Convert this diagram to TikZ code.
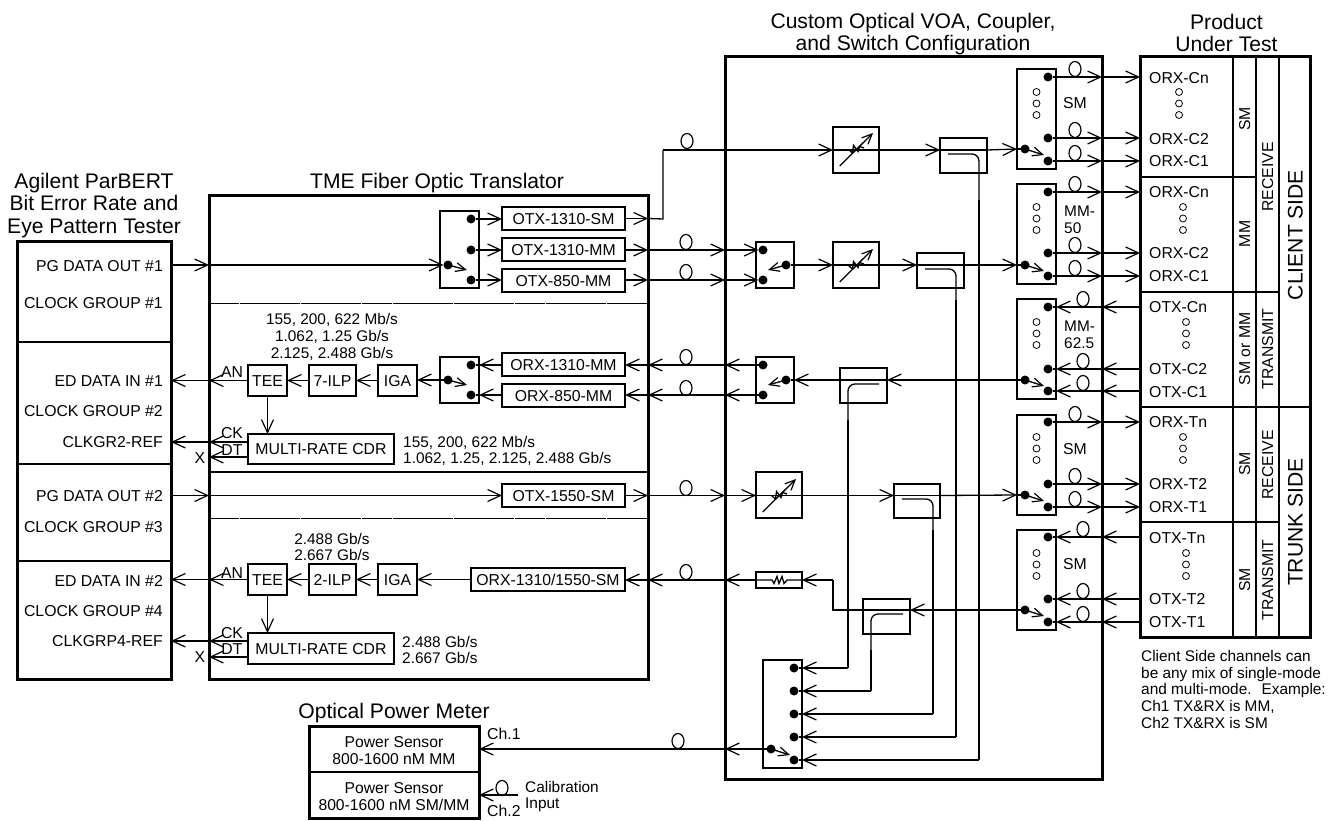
\documentclass[tikz,border=0pt]{standalone}
\usepackage{fontspec}
\setmainfont{Liberation Sans}
\usetikzlibrary{arrows.meta,shapes.geometric}
\newcommand{\lab}{\fontsize{15.8}{16.8}\selectfont}
\newcommand{\labs}{\fontsize{15.4}{16.8}\selectfont}
\newcommand{\ttl}{\fontsize{21.1}{22.4}\selectfont}
\tikzset{
  plainbox/.style={draw,line width=1.3pt,inner sep=0pt,outer sep=0pt,font=\lab,text height=11.3pt,text depth=0pt},
  heavybox/.style={draw,line width=3pt,inner sep=0pt,outer sep=0pt},
  wire/.style={line width=1.3pt},
  arr/.style={wire,-{Straight Barb[length=13pt,width=12pt,line width=1.2pt]}},
  arrs/.style={wire,-{Straight Barb[length=10pt,width=9pt,line width=1.2pt]}},
  dotn/.style={circle,fill=black,inner sep=0pt,minimum size=9pt,outer sep=0pt},
  coil/.style={draw,ellipse,line width=1.2pt,inner sep=0pt,minimum width=12pt,minimum height=15pt},
  tx/.style={font=\lab,inner sep=0pt,text height=11.3pt,text depth=0pt},
  txm/.style={font=\labs,inner sep=0pt,align=center},
  ttlm/.style={font=\ttl,inner sep=0pt,align=center},
  big/.style={font=\ttl,inner sep=0pt,text height=15pt,text depth=0pt},
  nl/.style={font=\labs,inner sep=0pt,align=left,anchor=north west},
  div/.style={line width=1.3pt},
  rule/.style={line width=.8pt,dash pattern=on 30pt off .6pt},
  ring/.style={line width=.8pt}
}
\newcommand{\Bx}[7][plainbox]{\node[#1,minimum width={#5-#3},minimum height={#6-#4}] (#2) at ({(#3+#5)/2},{(#4+#6)/2}) {#7};}
\newcommand{\rings}[2]{\draw[ring] (#1,#2) circle[radius=3.5] (#1,{#2+11.5}) circle[radius=3.5] (#1,{#2+23}) circle[radius=3.5];}
\newcommand{\mux}[7]{%
  \Bx{#1}{1017}{#2}{1056}{(#2+100)}{}
  \node[dotn] (#1c) at (1025,#3) {};
  \node[dotn] (#1a) at (1048,#4) {};
  \node[dotn] (#1b) at (1048,#5) {};
  \node[dotn] (#1d) at (1048,#6) {};
  \coordinate (#1k) at (1044,{#3+6});
  \draw[arrs] (#1c.center) -- (#1k);
  \rings{1036.5}{#7}
}
\newcommand{\outw}[3]{%
  \draw[arr] (#1) -- (cust.east |- #1);
  \draw[arr] (cust.east |- #1) -- (prod.west |- #1);
  \node[coil] (#1coil) at (1075,{#2-8}) {};
}
\newcommand{\inw}[3]{%
  \draw[arr] (prod.west |- #1) -- (cust.east |- #1);
  \draw[arr] (cust.east |- #1) -- (#3.east |- #1);
  \draw[wire] (#3.east |- #1) -- (#1);
  \node[coil] (#1coil) at (1083,{#2-8}) {};
}
\newcommand{\attn}[2]{%
  \draw[arrs] (#1+6.7,#2+17) -- (#1+40,#2-16);
  \draw[wire] (#1+15.5,#2+.5) -- (#1+19.5,#2+4) -- (#1+20.5,#2-3.5) -- (#1+25,#2+2.5) -- (#1+26.5,#2-2.5) -- (#1+31,#2-1);
}
\begin{document}
\begin{tikzpicture}[x=1pt,y=-1pt]
\useasboundingbox (0,0) rectangle (1334,821);
%% titles
\node[ttlm] (tag) at (94,205.5) {Agilent ParBERT\\Bit Error Rate and\\Eye Pattern Tester};
\node[big] (ttme) at (437,181) {TME Fiber Optic Translator};
\node[ttlm] (tcu) at (913,34) {Custom Optical VOA, Coupler,\\and Switch Configuration};
\node[ttlm] (tpr) at (1226.5,33) {Product\\Under Test};
\node[big] (tpm) at (394,711) {Optical Power Meter};
%% main boxes
\Bx[heavybox]{ag}{17}{242}{171}{679}{}
\Bx[heavybox]{tme}{209}{196}{648}{679}{}
\Bx[heavybox]{cust}{725}{57}{1102}{779}{}
\Bx[heavybox]{prod}{1140}{57}{1310}{637}{}
\Bx[heavybox]{pm}{309}{726}{479}{818}{}
%% dividers
\draw[div] (ag.west |- 0,342) -- (ag.east |- 0,342);
\draw[div] (ag.west |- 0,464) -- (ag.east |- 0,464);
\draw[div] (ag.west |- 0,561) -- (ag.east |- 0,561);
\draw[rule] (tme.west |- 0,303) -- (tme.east |- 0,303);
\draw[div] (tme.west |- 0,472) -- (tme.east |- 0,472);
\draw[rule] (tme.west |- 0,518) -- (tme.east |- 0,518);
\draw[div] (pm.west |- 0,772) -- (pm.east |- 0,772);
\draw[div] (1233,57) -- (1233,637);
\draw[div] (1256,57) -- (1256,637);
\draw[div] (1279,57) -- (1279,637);
\draw[div] (prod.west |- 0,177) -- (1256,177);
\draw[div] (prod.west |- 0,292) -- (1279,292);
\draw[div] (prod.west |- 0,407) -- (prod.east |- 0,407);
\draw[div] (prod.west |- 0,522) -- (1279,522);
%% Agilent labels
\foreach \n/\y/\t in {a1/266/PG DATA OUT \#1,a2/303/CLOCK GROUP \#1,a3/381/ED DATA IN \#1,a4/411/CLOCK GROUP \#2,a5/442/CLKGR2-REF,a6/496/PG DATA OUT \#2,a7/527/CLOCK GROUP \#3,a8/581/ED DATA IN \#2,a9/611/CLOCK GROUP \#4,a10/641/CLKGRP4-REF}
  \node[tx,anchor=east] (\n) at (163,\y) {\t};
%% TME contents
\Bx{t1}{440}{211}{479}{288}{}
\node[dotn] (t1c) at (448,265) {};
\node[dotn] (t1a) at (471,219) {};
\node[dotn] (t1b) at (471,250) {};
\node[dotn] (t1d) at (471,280) {};
\coordinate (t1k) at (467,270);
\draw[arrs] (t1c.center) -- (t1k);
\Bx{otx1}{502}{207}{625}{230}{OTX-1310-SM}
\Bx{otx2}{502}{238}{625}{261}{OTX-1310-MM}
\Bx{otx3}{502}{269}{625}{292}{OTX-850-MM}
\Bx{t2}{440}{357}{479}{403}{}
\node[dotn] (t2c) at (448,380) {};
\node[dotn] (t2a) at (471,365) {};
\node[dotn] (t2b) at (471,395) {};
\coordinate (t2k) at (467,385);
\draw[arrs] (t2c.center) -- (t2k);
\Bx{orx1}{502}{353}{625}{376}{ORX-1310-MM}
\Bx{orx2}{502}{384}{625}{407}{ORX-850-MM}
\Bx{iga1}{378}{365}{417}{396}{IGA}
\Bx{ilp1}{309}{365}{356}{396}{7-ILP}
\Bx{tee1}{248}{365}{287}{396}{TEE}
\Bx{cdr1}{248}{434}{394}{464}{MULTI-RATE CDR}
\Bx{otx4}{502}{484}{625}{507}{OTX-1550-SM}
\Bx{orx3}{471}{568}{625}{591}{ORX-1310/1550-SM}
\Bx{iga2}{378}{564}{417}{595}{IGA}
\Bx{ilp2}{309}{564}{356}{595}{2-ILP}
\Bx{tee2}{248}{564}{287}{595}{TEE}
\Bx{cdr2}{248}{633}{394}{664}{MULTI-RATE CDR}
\node[txm] (r1) at (332,337) {155, 200, 622 Mb/s\\1.062, 1.25 Gb/s\\2.125, 2.488 Gb/s};
\node[txm,anchor=west,align=left] (r2) at (403,451) {155, 200, 622 Mb/s\\1.062, 1.25, 2.125, 2.488 Gb/s};
\node[txm] (r3) at (332,547) {2.488 Gb/s\\2.667 Gb/s};
\node[txm,anchor=west,align=left] (r4) at (402,650) {2.488 Gb/s\\2.667 Gb/s};
\node[tx] (an1) at (232,372) {AN};
\node[tx] (ck1) at (232,433) {CK};
\node[tx] (dt1) at (232,450) {DT};
\node[tx] (x1) at (200,458) {X};
\node[tx] (an2) at (232,573) {AN};
\node[tx] (ck2) at (232,633) {CK};
\node[tx] (dt2) at (232,649) {DT};
\node[tx] (x2) at (200,657) {X};
%% left-hand wires
\draw[arr] (ag.east |- t1c) -- (tme.west |- t1c);
\draw[arr] (tme.west |- t1c) -- (t1c.west);
\draw[arr] (t1a) -- (otx1.west |- t1a);
\draw[arr] (t1b) -- (otx2.west |- t1b);
\draw[arr] (t1d) -- (otx3.west |- t1d);
\draw[wire] (orx1.west |- t2a) -- (t2a);
\draw[arr] (orx1.west |- t2a) -- (t2.east |- t2a);
\draw[arr] (orx2.west |- t2b) -- (t2.east |- t2b);
\draw[wire] (t2.east |- t2b) -- (t2b);
\draw[arr] (t2c) -- (iga1.east |- t2c);
\draw[arr] (iga1.west) -- (ilp1.east);
\draw[arr] (ilp1.west) -- (tee1.east);
\draw[arr] (tee1.west) -- (tme.west |- tee1);
\draw[arr] (tme.west |- tee1) -- (ag.east |- tee1);
\draw[arr] (tee1.south) -- (tee1.south |- cdr1.north);
\coordinate (ck1p) at (248,442);
\coordinate (dt1p) at (248,457);
\draw[arr] (ck1p) -- (tme.west |- ck1p);
\draw[arr] (tme.west |- ck1p) -- (ag.east |- ck1p);
\draw[arr] (dt1p) -- (tme.west |- dt1p);
\draw[arr] (otx4.east) -- (tme.east |- otx4);
\draw[arr] (ag.east |- otx4) -- (tme.west |- otx4);
\draw[arr] (tme.west |- otx4) -- (otx4.west);
\draw[arr] (orx3.west) -- (iga2.east |- orx3);
\draw[arr] (iga2.west) -- (ilp2.east);
\draw[arr] (ilp2.west) -- (tee2.east);
\draw[arr] (tee2.west) -- (tme.west |- tee2);
\draw[arr] (tme.west |- tee2) -- (ag.east |- tee2);
\draw[arr] (tee2.south) -- (tee2.south |- cdr2.north);
\coordinate (ck2p) at (248,641);
\coordinate (dt2p) at (248,657);
\draw[arr] (ck2p) -- (tme.west |- ck2p);
\draw[arr] (tme.west |- ck2p) -- (ag.east |- ck2p);
\draw[arr] (dt2p) -- (tme.west |- dt2p);
%% custom box contents
\Bx{at1}{833}{127}{879}{173}{}
\Bx{at2}{833}{242}{879}{288}{}
\Bx{at3}{756}{472}{802}{518}{}
\Bx{res}{756}{572}{802}{588}{}
\Bx{ca}{940}{138}{987}{173}{}
\Bx{cb}{917}{253}{964}{288}{}
\Bx{cc}{840}{368}{887}{403}{}
\Bx{cd}{894}{484}{940}{518}{}
\Bx{ce}{863}{599}{910}{634}{}
\Bx{s2}{756}{242}{794}{288}{}
\node[dotn] (s2c) at (786,265) {};
\node[dotn] (s2a) at (763,250) {};
\node[dotn] (s2b) at (763,280) {};
\coordinate (s2k) at (768,270);
\draw[arrs] (s2c.center) -- (s2k);
\Bx{s3}{756}{357}{794}{403}{}
\node[dotn] (s3c) at (786,380) {};
\node[dotn] (s3a) at (763,365) {};
\node[dotn] (s3b) at (763,395) {};
\coordinate (s3k) at (768,385);
\draw[arrs] (s3c.center) -- (s3k);
\Bx{sel}{763}{660}{802}{768}{}
\foreach \n/\y in {e1/668,e2/691,e3/714,e4/737,e5/760} \node[dotn] (\n) at (794,\y) {};
\node[dotn] (ec) at (771,749) {};
\coordinate (ek) at (790,755);
\draw[arrs] (ec.center) -- (ek);
\mux{ma}{69}{149}{77}{138}{161}{92}
\mux{mb}{184}{265}{192}{253}{276}{207}
\mux{mc}{299}{380}{307}{369}{391}{322}
\mux{md}{415}{495}{422}{484}{507}{437}
\mux{me}{530}{610}{537}{599}{622}{553}
\node[tx] (sma) at (1075,103) {SM};
\node[txm,align=left,anchor=west] (mm50) at (1064,220) {MM-\\50};
\node[txm,align=left,anchor=west] (mm62) at (1064,335) {MM-\\62.5};
\node[tx] (smd) at (1075,449) {SM};
\node[tx] (sme) at (1075,564) {SM};
%% top path
\coordinate (bend1) at (663,219);
\draw[arr] (otx1.east) -- (tme.east |- otx1);
\draw[wire] (tme.east |- otx1) -- (bend1) -- (bend1 |- at1);
\draw[arr] (bend1 |- at1) -- (at1.west);
\node[coil] (c1) at (687,141) {};
\draw[wire] (at1.west) -- (at1.east);
\draw[arr] (at1.east) -- (ca.west |- at1);
\draw[wire] (ca.west |- at1) -- (ca.east |- at1);
\draw[arr] (ca.east |- at1) -- (ma.west |- mac);
\draw[wire] (ma.west |- mac) -- (mac);
%% OTX-MM pair
\foreach \o/\d/\cn/\cy in {otx2/s2a/c2/242,otx3/s2b/c3/272}{
  \draw[arr] (\o.east |- \d) -- (tme.east |- \d);
  \draw[arr] (tme.east |- \d) -- (cust.west |- \d);
  \draw[arr] (cust.west |- \d) -- (\d.west);
  \node[coil] (\cn) at (686,\cy) {};
}
\draw[arr] (s2c) -- (at2.west);
\draw[wire] (at2.west) -- (at2.east);
\draw[arr] (at2.east) -- (cb.west |- at2);
\draw[wire] (cb.west |- at2) -- (cb.east |- at2);
\draw[arr] (cb.east |- at2) -- (mb.west |- mbc);
\draw[wire] (mb.west |- mbc) -- (mbc);
%% ORX-MM pair
\draw[arr] (mcc) -- (cc.east |- mcc);
\draw[wire] (cc.east |- mcc) -- (cc.west |- mcc);
\draw[arr] (cc.west |- mcc) -- (s3.east |- s3c);
\draw[wire] (s3.east |- s3c) -- (s3c);
\foreach \o/\d/\cn/\cy in {orx1/s3a/c4/357,orx2/s3b/c5/388}{
  \draw[arr] (\d) -- (cust.west |- \d);
  \draw[arr] (cust.west |- \d) -- (tme.east |- \d);
  \draw[arr] (tme.east |- \d) -- (\o.east |- \d);
  \node[coil] (\cn) at (686,\cy) {};
}
%% OTX-1550
\draw[arr] (tme.east |- otx4) -- (cust.west |- otx4);
\draw[arr] (cust.west |- otx4) -- (at3.west |- otx4);
\node[coil] (c6) at (686,488) {};
\draw[wire] (at3.west |- otx4) -- (at3.east |- otx4);
\draw[arr] (at3.east |- otx4) -- (cd.west |- otx4);
\draw[wire] (cd.west |- otx4) -- (cd.east |- otx4);
\draw[arr] (cd.east |- otx4) -- (md.west |- mdc);
\draw[wire] (md.west |- mdc) -- (mdc);
%% ORX-1310/1550
\coordinate (bend2) at (833,610);
\draw[arr] (mec) -- (ce.east |- mec);
\draw[wire] (ce.east |- mec) -- (bend2) -- (bend2 |- res);
\draw[arr] (bend2 |- res) -- (res.east);
\draw[wire] (res.east) -- (787,580) -- (784,583.5) -- (782,576.5) -- (779,583.5) -- (777,576.5) -- (774,583.5) -- (772,580) -- (res.west);
\draw[arr] (res.west) -- (cust.west |- res);
\draw[arr] (cust.west |- res) -- (tme.east |- res);
\draw[arr] (tme.east |- res) -- (orx3.east |- res);
\node[coil] (c7) at (686,572) {};
%% attenuator symbols
\attn{833}{149}
\attn{833}{265}
\attn{756}{495}
%% coupler taps
\coordinate (cat) at (948,154);
\coordinate (cav) at (979,154);
\coordinate (cbt) at (925,269);
\coordinate (cbv) at (956,269);
\coordinate (cct) at (879,384);
\coordinate (ccv) at (848,384);
\coordinate (cdt) at (902,499);
\coordinate (cdv) at (933,499);
\coordinate (cet) at (903,614);
\coordinate (cev) at (871,614);
\draw[wire,rounded corners=7pt] (cat) -- (cav) -- (979,200);
\draw[wire] (979,200) -- (cav |- e5);
\draw[arr] (cav |- e5) -- (sel.east |- e5);
\draw[wire,rounded corners=7pt] (cbt) -- (cbv) -- (956,300);
\draw[wire] (956,300) -- (cbv |- e4);
\draw[arr] (cbv |- e4) -- (sel.east |- e4);
\draw[wire,rounded corners=7pt] (cct) -- (ccv) -- (848,420);
\draw[wire] (848,420) -- (ccv |- e1);
\draw[arr] (ccv |- e1) -- (sel.east |- e1);
\draw[wire,rounded corners=7pt] (cdt) -- (cdv) -- (933,530);
\draw[wire] (933,530) -- (cdv |- e3);
\draw[arr] (cdv |- e3) -- (sel.east |- e3);
\draw[wire,rounded corners=7pt] (cet) -- (cev) -- (871,650);
\draw[wire] (871,650) -- (cev |- e2);
\draw[arr] (cev |- e2) -- (sel.east |- e2);
\draw[wire] (sel.east |- e1) -- (e1);
\draw[wire] (sel.east |- e2) -- (e2);
\draw[wire] (sel.east |- e3) -- (e3);
\draw[wire] (sel.east |- e4) -- (e4);
\draw[wire] (sel.east |- e5) -- (e5);
%% power meter
\draw[arr] (ec) -- (cust.west |- ec);
\draw[arr] (cust.west |- ec) -- (pm.east |- ec);
\node[coil] (c8) at (678,741) {};
\node[txm,font=\fontsize{15.7}{16.8}\selectfont] (ps1) at (394,750.5) {Power Sensor\\800-1600 nM MM};
\node[txm,font=\fontsize{15.7}{16.8}\selectfont] (ps2) at (394,796.5) {Power Sensor\\800-1600 nM SM/MM};
\node[tx,anchor=west] (ch1) at (487,734) {Ch.1};
\node[tx,anchor=west] (ch2) at (487,811) {Ch.2};
\node[txm,anchor=west,align=left] (cal) at (525,796.5) {Calibration\\Input};
\coordinate (calp) at (518,795);
\draw[arr] (calp) -- (pm.east |- calp);
\node[coil] (c9) at (502,788) {};
%% right wires
\outw{maa}{77}{ma}
\outw{mab}{138}{ma}
\outw{mad}{161}{ma}
\outw{mba}{192}{mb}
\outw{mbb}{253}{mb}
\outw{mbd}{276}{mb}
\inw{mca}{307}{mc}
\inw{mcb}{369}{mc}
\inw{mcd}{391}{mc}
\outw{mda}{422}{md}
\outw{mdb}{484}{md}
\outw{mdd}{507}{md}
\inw{mea}{537}{me}
\inw{meb}{599}{me}
\inw{med}{622}{me}
%% product labels
\foreach \n/\y/\t in {p1/78/ORX-Cn,p2/139/ORX-C2,p3/161/ORX-C1,p4/192/ORX-Cn,p5/253/ORX-C2,p6/276/ORX-C1,p7/307/OTX-Cn,p8/369/OTX-C2,p9/392/OTX-C1,p10/422/ORX-Tn,p11/484/ORX-T2,p12/507/ORX-T1,p13/538/OTX-Tn,p14/599/OTX-T2,p15/622/OTX-T1}
  \node[tx,anchor=west] (\n) at (1149,\y) {\t};
\rings{1179}{92}
\rings{1183}{207}
\rings{1186}{322}
\rings{1183}{437}
\rings{1186}{553}
\foreach \n/\x/\y/\t in {v1/1244.5/119/SM,v2/1244.5/234/MM,v3/1244.5/349/SM or MM,v4/1244.5/464/SM,v5/1244.5/580/SM,v6/1267.5/177/RECEIVE,v7/1267.5/349/TRANSMIT,v8/1267.5/465/RECEIVE,v9/1267.5/580/TRANSMIT}
  \node[tx,rotate=90] (\n) at (\x,\y) {\t};
\node[big,rotate=90] (v10) at (1295,235) {CLIENT SIDE};
\node[big,rotate=90] (v11) at (1295,522) {TRUNK SIDE};
\node[nl] (note) at (1141,650) {Client Side channels can\\be any mix of single-mode\\and multi-mode.~ Example:\\Ch1 TX\&RX is MM,\\Ch2 TX\&RX is SM};
\end{tikzpicture}
\end{document}
